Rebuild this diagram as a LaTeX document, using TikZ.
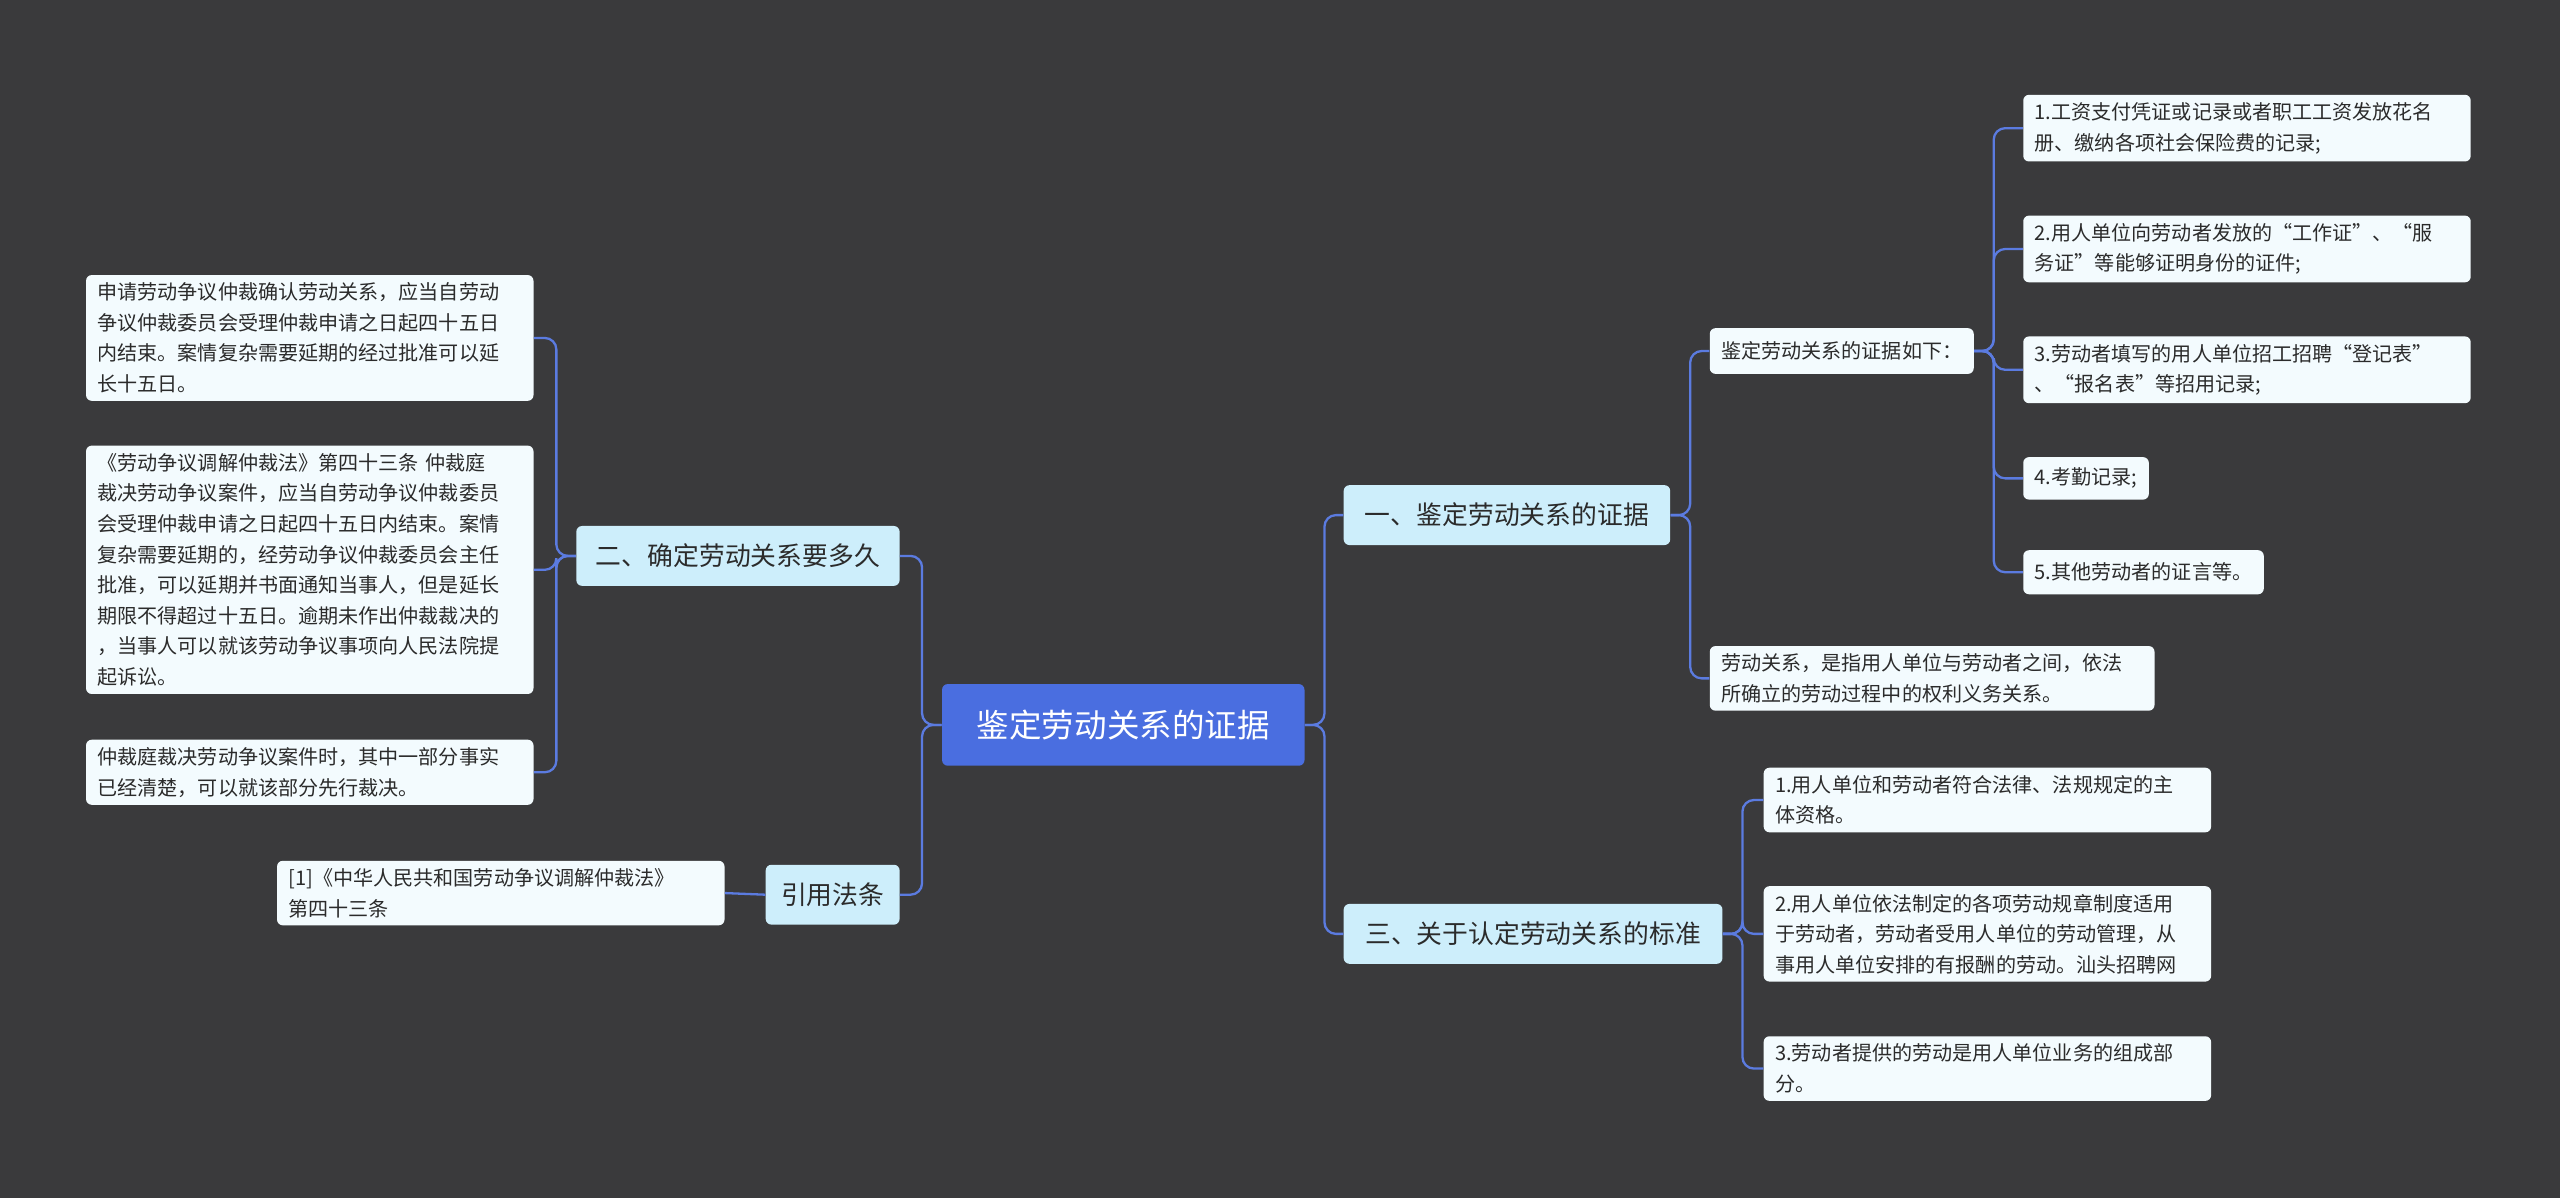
\documentclass[tikz,border=0pt]{standalone}
\usepackage{fontspec}
\setmainfont{Noto Sans CJK SC}
\usetikzlibrary{positioning}
\definecolor{bg}{HTML}{3A3A3C}
\definecolor{rootfill}{HTML}{4A6EE0}
\definecolor{topicfill}{HTML}{CDEEFB}
\definecolor{leaffill}{HTML}{F3FBFE}
\definecolor{linkc}{HTML}{5B7BE0}
\definecolor{txt}{HTML}{2B2B2B}
\begin{document}
\begin{tikzpicture}[x=0.03cm,y=-0.03cm,
    rootbox/.style={fill=rootfill,text=white,rounded corners=3pt,font=\fontsize{17pt}{20pt}\selectfont,inner xsep=10pt,minimum height=1.5cm},
    topic/.style={fill=topicfill,text=txt,rounded corners=3pt,font=\fontsize{13.5pt}{16pt}\selectfont,inner xsep=8pt,minimum height=1.1cm},
    leaf/.style={fill=leaffill,text=txt,rounded corners=3pt,font=\fontsize{10.5pt}{16pt}\selectfont,align=left,inner xsep=6pt,inner ysep=4pt},
    link/.style={draw=linkc,line width=1.2pt,rounded corners=6pt}]
  % background
  \fill[bg] (0,0) rectangle (1568,734);
  \useasboundingbox (0,0) rectangle (1568,734);

  % Centre and main topics
  \node[rootbox,minimum width=6.66cm] (root) at (688,444) {鉴定劳动关系的证据};
  \node[topic,minimum width=6cm] (t1) at (923,315.5) {一、鉴定劳动关系的证据};
  \node[topic,minimum width=6.96cm] (t3) at (939,572) {三、关于认定劳动关系的标准};
  \node[topic,minimum width=5.94cm] (t2) at (452,340.5) {二、确定劳动关系要多久};
  \node[topic,minimum width=2.46cm] (t4) at (510,548) {引用法条};

  % Right side, topic one
  \node[leaf,anchor=west,minimum height=0.84cm] (s1) at (1047,215) {鉴定劳动关系的证据如下：};
  \node[leaf,anchor=west,text width=7.75cm] (s2) at (1047,415.5) {劳动关系，是指用人单位与劳动者之间，依法\\所确立的劳动过程中的权利义务关系。};
  \node[leaf,anchor=west,text width=7.8cm] (e1) at (1239,78.5) {1.工资支付凭证或记录或者职工工资发放花名\\册、缴纳各项社会保险费的记录;};
  \node[leaf,anchor=west,text width=7.8cm] (e2) at (1239,152.5) {2.用人单位向劳动者发放的“工作证”、“服\\务证”等能够证明身份的证件;};
  \node[leaf,anchor=west,text width=7.8cm] (e3) at (1239,226.5) {3.劳动者填写的用人单位招工招聘“登记表”\\、“报名表”等招用记录;};
  \node[leaf,anchor=west,minimum height=0.78cm] (e4) at (1239,293) {4.考勤记录;};
  \node[leaf,anchor=west,minimum height=0.81cm] (e5) at (1239,350.5) {5.其他劳动者的证言等。};

  % Right side, topic three
  \node[leaf,anchor=west,text width=7.8cm] (c1) at (1080,490) {1.用人单位和劳动者符合法律、法规规定的主\\体资格。};
  \node[leaf,anchor=west,text width=7.8cm] (c2) at (1080,572) {2.用人单位依法制定的各项劳动规章制度适用\\于劳动者，劳动者受用人单位的劳动管理，从\\事用人单位安排的有报酬的劳动。汕头招聘网};
  \node[leaf,anchor=west,text width=7.8cm] (c3) at (1080,654.5) {3.劳动者提供的劳动是用人单位业务的组成部\\分。};

  % Left side
  \node[leaf,anchor=east,text width=7.8cm] (l1) at (327,207) {申请劳动争议仲裁确认劳动关系，应当自劳动\\争议仲裁委员会受理仲裁申请之日起四十五日\\内结束。案情复杂需要延期的经过批准可以延\\长十五日。};
  \node[leaf,anchor=east,text width=7.8cm] (l2) at (327,349) {《劳动争议调解仲裁法》第四十三条 仲裁庭\\裁决劳动争议案件，应当自劳动争议仲裁委员\\会受理仲裁申请之日起四十五日内结束。案情\\复杂需要延期的，经劳动争议仲裁委员会主任\\批准，可以延期并书面通知当事人，但是延长\\期限不得超过十五日。逾期未作出仲裁裁决的\\，当事人可以就该劳动争议事项向人民法院提\\起诉讼。};
  \node[leaf,anchor=east,text width=7.8cm] (l3) at (327,473) {仲裁庭裁决劳动争议案件时，其中一部分事实\\已经清楚，可以就该部分先行裁决。};
  \node[leaf,anchor=east,text width=7.8cm] (r1) at (444,547) {[1]《中华人民共和国劳动争议调解仲裁法》\\第四十三条};

  % Connectors
  \foreach \c in {t1,t3} \draw[link] (root.east) -- ++(12,0) |- (\c.west);
  \foreach \c in {t2,t4} \draw[link] (root.west) -- ++(-12,0) |- (\c.east);
  \foreach \c in {s1,s2} \draw[link] (t1.east) -- ++(12,0) |- (\c.west);
  \foreach \c in {e1,e2,e3,e4,e5} \draw[link] (s1.east) -- ++(12,0) |- (\c.west);
  \foreach \c in {c1,c2,c3} \draw[link] (t3.east) -- ++(12,0) |- (\c.west);
  \foreach \c in {l1,l2,l3} \draw[link] (t2.west) -- ++(-12,0) |- (\c.east);
  \draw[link] (t4.west) -- (r1.east);
\end{tikzpicture}
\end{document}
